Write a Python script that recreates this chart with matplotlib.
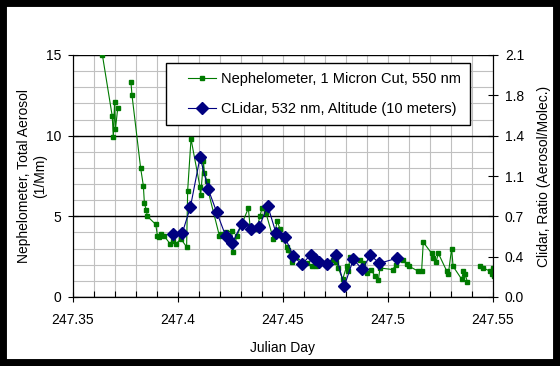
import numpy as np
from matplotlib import pyplot as plt
from matplotlib.patches import Rectangle
from matplotlib.ticker import MultipleLocator
from matplotlib.legend_handler import HandlerLine2D

# nephelometer (left axis), nan = gap in the record
neph_day = [247.3640, 247.3687, 247.3692, 247.3698, 247.3702, 247.3713, np.nan,
            247.3776, 247.3781, 247.3822, 247.3835, 247.3840, 247.3849, 247.3854,
            247.3894, 247.3902, 247.3911, 247.3921, 247.3933, 247.3962, 247.3976,
            247.3990, 247.4014, 247.4041, 247.4046, 247.4062, 247.4105, 247.4108,
            247.4121, 247.4126, 247.4137, 247.4143, 247.4197, 247.4205, 247.4229,
            247.4256, 247.4260, 247.4281, 247.4335, 247.4343, 247.4351, 247.4375,
            247.4390, 247.4400, 247.4419, 247.4454, 247.4473, 247.4486, 247.4502,
            247.4517, 247.4525, 247.4541, 247.4562, 247.4597, 247.4613, 247.4637,
            247.4657, 247.4705, 247.4740, 247.4752, 247.4763, 247.4784, 247.4803,
            247.4811, 247.4819, 247.4835, 247.4867, 247.4882, 247.4899, 247.4918,
            247.4938, 247.4954, 247.4962, 247.5022, 247.5038, 247.5070, 247.5089,
            247.5101, 247.5144, 247.5160, 247.5168, 247.5208, 247.5216, 247.5229,
            247.5240, 247.5280, 247.5287, 247.5303, 247.5310, 247.5351, 247.5359,
            247.5367, 247.5378, np.nan, 247.5438, 247.5454, 247.5486, 247.5494,
            247.5501, 247.5505]
neph_val = [15.0, 11.2, 9.9, 12.1, 10.4, 11.7, np.nan,
            13.3, 12.5, 8.0, 6.9, 5.8, 5.4, 5.0,
            4.5, 3.8, 3.7, 3.9, 3.8, 3.3, 3.5,
            3.3, 3.6, 3.1, 6.6, 9.8, 6.8, 6.3,
            8.4, 7.7, 7.2, 6.6, 3.8, 3.9, 4.0,
            4.1, 2.8, 3.8, 5.5, 4.4, 4.2, 4.2,
            5.0, 5.5, 5.2, 3.6, 4.7, 4.2, 3.6,
            3.1, 2.9, 2.2, 2.5, 2.1, 2.1, 1.9,
            1.9, 2.0, 2.3, 2.2, 1.8, 1.1, 1.9,
            1.6, 2.5, 2.4, 2.3, 2.1, 1.5, 1.7,
            1.3, 1.05, 1.8, 1.7, 2.0, 2.3, 2.05,
            1.9, 1.6, 1.6, 3.4, 2.7, 2.4, 2.2,
            2.7, 1.6, 1.4, 3.0, 1.9, 1.1, 1.6,
            1.4, 0.95, np.nan, 1.9, 1.8, 1.6, 1.4,
            1.8, 1.3]

# clidar ratio (right axis)
clidar_day = [247.3978, 247.4020, 247.4059, 247.4105, 247.4144, 247.4184, 247.4227,
              247.4259, 247.4303, 247.4346, 247.4386, 247.4427, 247.4467, 247.4508,
              247.4549, 247.4589, 247.4632, 247.4652, 247.4673, 247.4711, 247.4752,
              247.4792, 247.4835, 247.4878, 247.4916, 247.4959, 247.5041]
clidar_ratio = [0.547, 0.553, 0.780, 1.213, 0.935, 0.738, 0.530,
                0.470, 0.634, 0.593, 0.608, 0.793, 0.553, 0.524,
                0.356, 0.284, 0.365, 0.330, 0.301, 0.286, 0.365,
                0.095, 0.327, 0.240, 0.365, 0.292, 0.336]

x_ticks = [247.35, 247.40, 247.45, 247.50, 247.55]
x_labels = ["247.35", "247.4", "247.45", "247.5", "247.55"]
left_ticks = [0, 5, 10, 15]
right_ticks = [0.0, 0.35, 0.70, 1.05, 1.40, 1.75, 2.10]
right_labels = ["0.0", "0.4", "0.7", "1.1", "1.4", "1.8", "2.1"]

plt.rcParams['font.family'] = ['Liberation Sans', 'DejaVu Sans']
plt.rcParams['font.size'] = 10

fig = plt.figure(figsize=(5.6, 3.66), dpi=100, facecolor='white')
fig.add_artist(Rectangle((0, 0), 1, 1, transform=fig.transFigure, fill=False,
                         edgecolor='black', linewidth=10, zorder=10))

ax = fig.add_axes([73/560, 69/366, 420/560, 242/366])
ax2 = ax.twinx()

green = '#007a00'
navy = '#000080'
l1, = ax.plot(neph_day, neph_val, color=green, lw=0.8, marker='s', ms=2.2,
              mfc=green, mec=green, label='Nephelometer, 1 Micron Cut, 550 nm')
l2, = ax2.plot(clidar_day, clidar_ratio, color=navy, lw=0.8, marker='D', ms=6.5,
               mfc=navy, mec=navy, label='CLidar, 532 nm, Altitude (10 meters)')

ax.set_xlim(247.35, 247.55)
ax.set_ylim(0, 15)
ax2.set_ylim(0, 2.1)

ax.set_xticks(x_ticks, x_labels)
ax.xaxis.set_minor_locator(MultipleLocator(0.01))
ax.set_yticks(left_ticks)
ax.yaxis.set_minor_locator(MultipleLocator(1))
ax2.set_yticks(right_ticks, right_labels)

ax.grid(axis='x', which='both', color='#c0c0c0', lw=0.8)
ax.grid(axis='y', which='minor', color='#c0c0c0', lw=0.8)
ax.grid(axis='y', which='major', color='black', lw=1.0)

ax.tick_params(axis='x', which='major', direction='inout', length=7, width=0.8, pad=8)
ax.tick_params(axis='x', which='minor', direction='in', length=4, width=0.8)
ax.tick_params(axis='y', which='major', direction='inout', length=7, width=0.8, pad=5)
ax.tick_params(axis='y', which='minor', length=0)
ax2.tick_params(axis='y', which='major', direction='inout', length=7, width=0.8, pad=5)

for s in ['top']:
    ax.spines[s].set_visible(False)
    ax2.spines[s].set_visible(False)

ax.set_xlabel('Julian Day', labelpad=10)
ax.set_ylabel('Nephelometer, Total Aerosol\n(1/Mm)', labelpad=-1)
ax2.set_ylabel('Clidar, Ratio (Aerosol/Molec.)', labelpad=9)

hmap = {l1: HandlerLine2D(xpad=0.89), l2: HandlerLine2D(xpad=0.89)}
leg = ax2.legend(handles=[l1, l2], handler_map=hmap, loc='upper right',
                 bbox_to_anchor=(0.945, 0.967), fancybox=False, framealpha=1,
                 edgecolor='black', fontsize=10.5, borderpad=0.62,
                 labelspacing=1.1, handlelength=2.81, handletextpad=0.34,
                 borderaxespad=0)
leg.get_frame().set_linewidth(1.0)

fig.savefig('out.png', dpi=100, facecolor='white')
